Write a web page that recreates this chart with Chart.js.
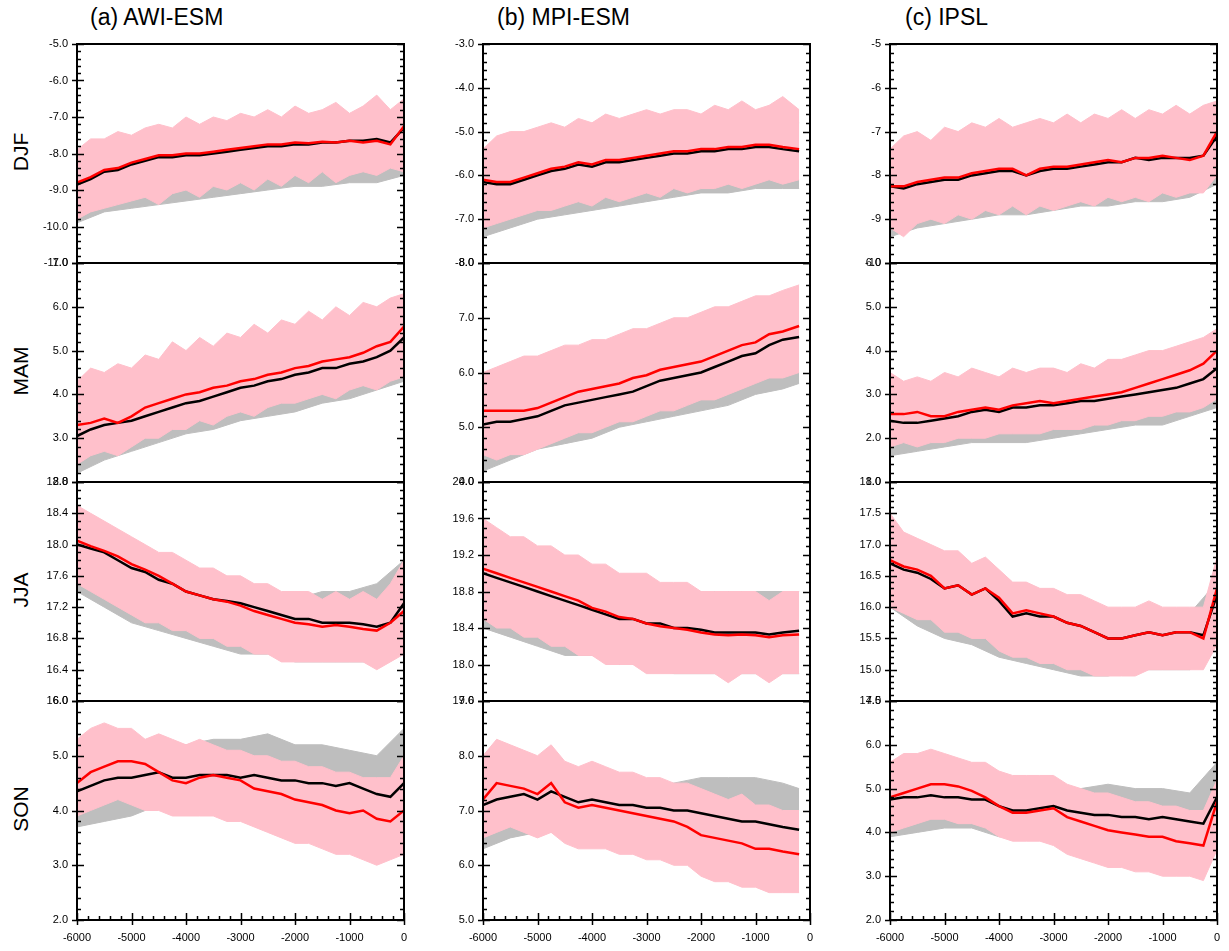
<!DOCTYPE html>
<html>
<head>
<meta charset="utf-8">
<script src="https://cdn.jsdelivr.net/npm/chart.js@4.4.1/dist/chart.umd.min.js"></script>
<style>
  body { margin: 0; background: #fff; width: 1229px; height: 951px; position: relative; overflow: hidden;
         font-family: "Liberation Sans", Arial, sans-serif; }
  canvas { position: absolute; }
  .title { position: absolute; font-size: 23px; top: 4px; }
  .row { position: absolute; font-size: 21px; transform: rotate(-90deg); transform-origin: center; width: 60px; text-align: center; }
</style>
</head>
<body>
<div class="title" style="left:90px">(a) AWI-ESM</div>
<div class="title" style="left:497px">(b) MPI-ESM</div>
<div class="title" style="left:905px">(c) IPSL</div>
<div class="row" style="left:-9px; top:140px">DJF</div>
<div class="row" style="left:-9px; top:359px">MAM</div>
<div class="row" style="left:-9px; top:578px">JJA</div>
<div class="row" style="left:-9px; top:797px">SON</div>
<script>
// x positions (years)
const xs25 = [-6000,-5750,-5500,-5250,-5000,-4750,-4500,-4250,-4000,-3750,-3500,-3250,-3000,-2750,-2500,-2250,-2000,-1750,-1500,-1250,-1000,-750,-500,-250,0];
const xs13 = [-6000,-5500,-5000,-4500,-4000,-3500,-3000,-2500,-2000,-1500,-1000,-500,0];
const xsMpi24 = [-6000,-5750,-5500,-5250,-5000,-4750,-4500,-4250,-4000,-3750,-3500,-3250,-3000,-2750,-2500,-2250,-2000,-1750,-1500,-1250,-1000,-750,-500,-200];
const xsMpi13 = [-6000,-5500,-5000,-4500,-4000,-3500,-3000,-2500,-2000,-1500,-1000,-500,-200];
const xTicks = [-6000,-5000,-4000,-3000,-2000,-1000,0];

// ---- AWI-ESM ----
const awiDjfBlack = [-8.85,-8.7,-8.5,-8.45,-8.3,-8.2,-8.1,-8.1,-8.05,-8.05,-8.0,-7.95,-7.9,-7.85,-7.8,-7.8,-7.75,-7.75,-7.7,-7.7,-7.65,-7.65,-7.6,-7.7,-7.3];
const awiDjfRed = [-8.8,-8.65,-8.45,-8.4,-8.25,-8.15,-8.05,-8.05,-8.0,-8.0,-7.95,-7.9,-7.85,-7.8,-7.75,-7.75,-7.7,-7.72,-7.68,-7.7,-7.65,-7.7,-7.65,-7.75,-7.25];
const awiDjfPinkHi = [-7.9,-7.6,-7.6,-7.4,-7.5,-7.3,-7.2,-7.3,-7.0,-7.2,-7.0,-7.1,-6.9,-7.0,-6.8,-7.0,-6.7,-6.9,-6.8,-6.6,-6.9,-6.7,-6.4,-6.8,-6.5];
const awiDjfPinkLo = [-9.8,-9.6,-9.5,-9.4,-9.3,-9.2,-9.4,-9.1,-9.0,-9.2,-8.9,-9.0,-8.8,-9.0,-8.7,-8.9,-8.6,-8.8,-8.5,-8.8,-8.6,-8.5,-8.6,-8.4,-8.5];
const awiDjfGrayHi = [-8.2,-7.9,-7.7,-7.6,-7.5,-7.4,-7.3,-7.2,-7.2,-7.1,-7.1,-7.0,-6.9];
const awiDjfGrayLo = [-9.9,-9.6,-9.5,-9.4,-9.3,-9.2,-9.1,-9.0,-8.9,-8.9,-8.8,-8.8,-8.6];

const awiMamBlack = [3.05,3.2,3.3,3.35,3.4,3.5,3.6,3.7,3.8,3.85,3.95,4.05,4.15,4.2,4.3,4.35,4.45,4.5,4.6,4.6,4.7,4.75,4.85,5.0,5.3];
const awiMamRed = [3.3,3.35,3.45,3.35,3.5,3.7,3.8,3.9,4.0,4.05,4.15,4.2,4.3,4.35,4.45,4.5,4.6,4.65,4.75,4.8,4.85,4.95,5.1,5.2,5.55];
const awiMamPinkHi = [4.3,4.6,4.5,4.7,4.6,4.9,4.8,5.2,5.0,5.3,5.1,5.4,5.3,5.6,5.4,5.7,5.6,5.9,5.7,6.0,5.8,6.1,6.0,6.2,6.3];
const awiMamPinkLo = [2.4,2.6,2.7,2.6,2.8,3.0,3.0,3.2,3.2,3.4,3.3,3.5,3.6,3.5,3.7,3.8,3.8,3.9,4.0,3.9,4.1,4.2,4.1,4.3,4.4];
const awiMamGrayHi = [3.6,3.8,3.9,4.2,4.4,4.6,4.8,4.9,5.1,5.2,5.4,5.6,5.9];
const awiMamGrayLo = [2.2,2.5,2.7,2.9,3.1,3.2,3.4,3.5,3.6,3.8,3.9,4.1,4.3];

const awiJjaBlack = [18.0,17.95,17.9,17.8,17.7,17.65,17.55,17.5,17.4,17.35,17.3,17.28,17.25,17.2,17.15,17.1,17.05,17.05,17.0,17.0,17.0,16.98,16.95,17.0,17.25];
const awiJjaRed = [18.05,17.98,17.92,17.85,17.75,17.68,17.6,17.5,17.4,17.35,17.3,17.27,17.22,17.15,17.1,17.05,17.0,16.98,16.95,16.97,16.95,16.92,16.9,17.0,17.15];
const awiJjaPinkHi = [18.5,18.4,18.3,18.2,18.1,18.0,17.9,17.9,17.8,17.7,17.7,17.6,17.6,17.5,17.5,17.4,17.4,17.4,17.3,17.4,17.3,17.4,17.3,17.5,17.8];
const awiJjaPinkLo = [17.5,17.4,17.3,17.2,17.1,17.0,17.0,16.9,16.9,16.8,16.8,16.7,16.7,16.6,16.6,16.5,16.5,16.5,16.5,16.5,16.5,16.5,16.4,16.5,16.6];
const awiJjaGrayHi = [18.3,18.1,17.9,17.7,17.6,17.5,17.4,17.4,17.3,17.4,17.4,17.5,17.8];
const awiJjaGrayLo = [17.4,17.2,17.0,16.9,16.8,16.7,16.6,16.6,16.5,16.5,16.5,16.5,16.6];

const awiSonBlack = [4.35,4.45,4.55,4.6,4.6,4.65,4.7,4.6,4.6,4.65,4.65,4.65,4.6,4.65,4.6,4.55,4.55,4.5,4.5,4.45,4.5,4.4,4.3,4.25,4.5];
const awiSonRed = [4.5,4.7,4.8,4.9,4.9,4.85,4.7,4.55,4.5,4.6,4.65,4.6,4.55,4.4,4.35,4.3,4.2,4.15,4.1,4.0,3.95,4.0,3.85,3.8,4.0];
const awiSonPinkHi = [5.3,5.5,5.6,5.5,5.5,5.3,5.4,5.3,5.2,5.3,5.2,5.1,5.1,5.0,5.0,4.9,4.9,4.8,4.8,4.7,4.7,4.6,4.6,4.6,5.0];
const awiSonPinkLo = [3.9,4.0,4.1,4.2,4.1,4.0,4.0,3.9,3.9,3.9,3.9,3.8,3.8,3.7,3.6,3.5,3.4,3.4,3.3,3.2,3.2,3.1,3.0,3.1,3.2];
const awiSonGrayHi = [4.9,5.2,5.3,5.2,5.2,5.3,5.3,5.4,5.2,5.2,5.1,5.0,5.5];
const awiSonGrayLo = [3.7,3.8,3.9,4.1,4.1,4.0,4.0,4.0,3.9,3.9,3.8,3.7,3.9];

// ---- MPI-ESM ----
const mpiDjfBlack = [-6.15,-6.2,-6.2,-6.1,-6.0,-5.9,-5.85,-5.75,-5.8,-5.7,-5.7,-5.65,-5.6,-5.55,-5.5,-5.5,-5.45,-5.45,-5.4,-5.4,-5.35,-5.35,-5.4,-5.45];
const mpiDjfRed = [-6.1,-6.15,-6.15,-6.05,-5.95,-5.85,-5.8,-5.7,-5.75,-5.65,-5.65,-5.6,-5.55,-5.5,-5.45,-5.45,-5.4,-5.4,-5.35,-5.35,-5.3,-5.3,-5.35,-5.4];
const mpiDjfPinkHi = [-5.4,-5.1,-5.0,-5.0,-4.9,-4.8,-4.9,-4.7,-4.8,-4.6,-4.7,-4.6,-4.5,-4.6,-4.5,-4.5,-4.6,-4.4,-4.5,-4.3,-4.5,-4.4,-4.2,-4.5];
const mpiDjfPinkLo = [-7.2,-7.1,-7.0,-6.9,-6.8,-6.8,-6.7,-6.6,-6.7,-6.5,-6.6,-6.5,-6.4,-6.5,-6.3,-6.4,-6.3,-6.3,-6.2,-6.3,-6.2,-6.1,-6.2,-6.1];
const mpiDjfGrayHi = [-5.6,-5.4,-5.3,-5.2,-5.1,-5.0,-5.0,-4.9,-4.9,-4.8,-4.8,-4.8,-4.8];
const mpiDjfGrayLo = [-7.4,-7.2,-7.0,-6.9,-6.8,-6.7,-6.6,-6.5,-6.4,-6.4,-6.3,-6.3,-6.3];

const mpiMamBlack = [5.05,5.1,5.1,5.15,5.2,5.3,5.4,5.45,5.5,5.55,5.6,5.65,5.75,5.85,5.9,5.95,6.0,6.1,6.2,6.3,6.35,6.5,6.6,6.65];
const mpiMamRed = [5.3,5.3,5.3,5.3,5.35,5.45,5.55,5.65,5.7,5.75,5.8,5.9,5.95,6.05,6.1,6.15,6.2,6.3,6.4,6.5,6.55,6.7,6.75,6.85];
const mpiMamPinkHi = [6.0,6.1,6.2,6.3,6.3,6.4,6.5,6.5,6.6,6.6,6.7,6.8,6.8,6.9,7.0,7.0,7.1,7.2,7.2,7.3,7.4,7.4,7.5,7.6];
const mpiMamPinkLo = [4.5,4.4,4.5,4.5,4.6,4.7,4.8,4.9,4.9,5.0,5.1,5.1,5.2,5.3,5.3,5.4,5.5,5.5,5.6,5.7,5.8,5.9,5.9,6.0];
const mpiMamGrayHi = [5.4,5.5,5.7,5.8,5.9,6.0,6.1,6.3,6.4,6.5,6.7,6.8,6.9];
const mpiMamGrayLo = [4.2,4.4,4.6,4.7,4.8,5.0,5.1,5.2,5.3,5.4,5.6,5.7,5.8];

const mpiJjaBlack = [19.0,18.95,18.9,18.85,18.8,18.75,18.7,18.65,18.6,18.55,18.5,18.5,18.45,18.45,18.4,18.4,18.38,18.35,18.35,18.35,18.35,18.33,18.35,18.37];
const mpiJjaRed = [19.05,19.0,18.95,18.9,18.85,18.8,18.75,18.7,18.62,18.58,18.52,18.5,18.45,18.42,18.4,18.38,18.35,18.33,18.32,18.33,18.32,18.3,18.32,18.33];
const mpiJjaPinkHi = [19.6,19.5,19.4,19.4,19.3,19.3,19.2,19.2,19.1,19.1,19.0,19.0,19.0,18.9,18.9,18.9,18.8,18.8,18.8,18.8,18.8,18.7,18.8,18.8];
const mpiJjaPinkLo = [18.5,18.4,18.4,18.3,18.3,18.2,18.2,18.1,18.1,18.0,18.0,18.0,17.9,17.9,17.9,17.9,17.9,17.9,17.8,17.9,17.9,17.8,17.9,17.9];
const mpiJjaGrayHi = [19.4,19.3,19.2,19.1,19.0,18.9,18.9,18.8,18.8,18.8,18.8,18.8,18.8];
const mpiJjaGrayLo = [18.4,18.3,18.2,18.1,18.1,18.0,18.0,17.9,17.9,17.9,17.9,17.9,17.9];

const mpiSonBlack = [7.1,7.2,7.25,7.3,7.2,7.35,7.25,7.15,7.2,7.15,7.1,7.1,7.05,7.05,7.0,7.0,6.95,6.9,6.85,6.8,6.8,6.75,6.7,6.65];
const mpiSonRed = [7.2,7.5,7.45,7.4,7.3,7.5,7.15,7.05,7.1,7.05,7.0,6.95,6.9,6.85,6.8,6.7,6.55,6.5,6.45,6.4,6.3,6.3,6.25,6.2];
const mpiSonPinkHi = [8.0,8.3,8.2,8.1,8.0,8.2,7.9,7.8,7.9,7.8,7.7,7.7,7.6,7.6,7.5,7.5,7.4,7.3,7.2,7.3,7.1,7.1,7.0,7.0];
const mpiSonPinkLo = [6.5,6.6,6.7,6.6,6.5,6.6,6.4,6.3,6.3,6.3,6.2,6.2,6.1,6.1,6.0,6.0,5.8,5.7,5.7,5.6,5.6,5.5,5.5,5.5];
const mpiSonGrayHi = [7.5,7.6,7.5,7.5,7.4,7.5,7.5,7.5,7.6,7.6,7.6,7.5,7.4];
const mpiSonGrayLo = [6.3,6.5,6.6,6.6,6.6,6.6,6.5,6.4,6.3,6.3,6.3,6.2,6.2];

// ---- IPSL ----
const ipslDjfBlack = [-8.25,-8.3,-8.2,-8.15,-8.1,-8.1,-8.0,-7.95,-7.9,-7.9,-8.0,-7.9,-7.85,-7.85,-7.8,-7.75,-7.7,-7.7,-7.6,-7.65,-7.6,-7.6,-7.6,-7.55,-7.1];
const ipslDjfRed = [-8.25,-8.25,-8.15,-8.1,-8.05,-8.05,-7.95,-7.9,-7.85,-7.85,-8.0,-7.85,-7.8,-7.8,-7.75,-7.7,-7.65,-7.7,-7.6,-7.6,-7.55,-7.6,-7.65,-7.55,-7.0];
const ipslDjfPinkHi = [-7.4,-7.1,-7.0,-7.2,-6.9,-7.0,-6.8,-6.9,-6.7,-6.9,-6.8,-6.7,-6.8,-6.6,-6.8,-6.6,-6.7,-6.5,-6.7,-6.5,-6.6,-6.4,-6.6,-6.4,-6.3];
const ipslDjfPinkLo = [-9.2,-9.4,-9.1,-9.0,-9.1,-8.9,-9.0,-8.8,-8.9,-8.7,-8.9,-8.7,-8.8,-8.7,-8.6,-8.7,-8.5,-8.6,-8.5,-8.6,-8.4,-8.5,-8.4,-8.4,-8.0];
const ipslDjfGrayHi = [-7.6,-7.4,-7.3,-7.2,-7.2,-7.1,-7.0,-7.0,-6.9,-6.9,-6.9,-6.9,-6.6];
const ipslDjfGrayLo = [-9.4,-9.2,-9.1,-9.0,-8.9,-8.9,-8.8,-8.7,-8.7,-8.6,-8.6,-8.5,-8.2];

const ipslMamBlack = [2.4,2.35,2.35,2.4,2.45,2.5,2.6,2.65,2.6,2.7,2.7,2.75,2.75,2.8,2.85,2.85,2.9,2.95,3.0,3.05,3.1,3.15,3.25,3.35,3.6];
const ipslMamRed = [2.55,2.55,2.6,2.5,2.5,2.6,2.65,2.7,2.65,2.75,2.8,2.85,2.8,2.85,2.9,2.95,3.0,3.05,3.15,3.25,3.35,3.45,3.55,3.7,4.0];
const ipslMamPinkHi = [3.5,3.3,3.4,3.3,3.5,3.4,3.6,3.5,3.4,3.6,3.5,3.6,3.6,3.5,3.7,3.6,3.8,3.8,3.9,4.0,4.0,4.1,4.2,4.3,4.5];
const ipslMamPinkLo = [1.8,1.9,1.8,1.9,1.9,2.0,2.0,2.0,2.1,2.1,2.1,2.1,2.2,2.2,2.2,2.3,2.3,2.4,2.4,2.5,2.5,2.6,2.6,2.7,2.9];
const ipslMamGrayHi = [2.9,2.9,3.0,3.0,3.1,3.1,3.1,3.2,3.3,3.4,3.5,3.6,3.8];
const ipslMamGrayLo = [1.6,1.7,1.8,1.9,1.9,1.9,2.0,2.1,2.2,2.3,2.3,2.5,2.7];

const ipslJjaBlack = [16.7,16.6,16.55,16.45,16.3,16.35,16.2,16.3,16.1,15.85,15.9,15.85,15.85,15.75,15.7,15.6,15.5,15.5,15.55,15.6,15.55,15.6,15.6,15.55,16.2];
const ipslJjaRed = [16.75,16.65,16.6,16.5,16.3,16.35,16.2,16.3,16.15,15.9,15.95,15.9,15.85,15.75,15.7,15.6,15.5,15.5,15.55,15.6,15.55,15.6,15.6,15.5,16.3];
const ipslJjaPinkHi = [17.5,17.2,17.1,17.0,16.9,16.9,16.7,16.8,16.6,16.4,16.4,16.3,16.3,16.2,16.2,16.1,16.0,16.0,16.0,16.1,16.0,16.0,16.0,16.0,16.8];
const ipslJjaPinkLo = [16.0,15.9,15.8,15.8,15.6,15.6,15.5,15.5,15.3,15.2,15.2,15.1,15.1,15.0,15.0,14.9,14.9,14.9,14.9,15.0,15.0,15.0,15.0,15.0,15.4];
const ipslJjaGrayHi = [17.0,16.8,16.6,16.3,16.2,16.2,16.0,15.9,15.9,15.9,15.9,15.9,16.4];
const ipslJjaGrayLo = [16.0,15.7,15.5,15.4,15.2,15.1,15.0,14.9,14.9,15.0,15.0,15.0,15.4];

const ipslSonBlack = [4.75,4.8,4.8,4.85,4.8,4.8,4.75,4.75,4.6,4.5,4.5,4.55,4.6,4.5,4.45,4.4,4.4,4.35,4.35,4.3,4.35,4.3,4.25,4.2,4.8];
const ipslSonRed = [4.8,4.9,5.0,5.1,5.1,5.05,4.95,4.8,4.6,4.45,4.45,4.5,4.55,4.35,4.25,4.15,4.05,4.0,3.95,3.9,3.9,3.8,3.75,3.7,4.7];
const ipslSonPinkHi = [5.6,5.8,5.8,5.9,5.8,5.7,5.6,5.6,5.4,5.3,5.3,5.3,5.3,5.1,5.0,4.9,4.9,4.8,4.7,4.7,4.6,4.6,4.5,4.5,5.2];
const ipslSonPinkLo = [4.0,4.1,4.2,4.3,4.3,4.2,4.2,4.1,3.9,3.8,3.8,3.8,3.7,3.5,3.4,3.3,3.2,3.2,3.1,3.1,3.0,3.0,3.0,2.9,3.6];
const ipslSonGrayHi = [5.2,5.2,5.3,5.2,5.0,5.0,4.9,5.0,5.1,5.0,5.0,4.9,5.6];
const ipslSonGrayLo = [3.9,4.0,4.1,4.1,3.9,3.9,3.9,3.9,3.9,3.8,3.8,3.7,4.1];

// y axis per panel: [min, max, major step, minor step, decimals]
const yAxes = [
  [[-11, -5, 1, 0.2, 1], [2, 7, 1, 0.2, 1], [16, 18.8, 0.4, 0.1, 1], [2, 6, 1, 0.2, 1]],
  [[-8, -3, 1, 0.2, 1], [4, 8, 1, 0.2, 1], [17.6, 20, 0.4, 0.1, 1], [5, 9, 1, 0.2, 1]],
  [[-10, -5, 1, 0.2, 0], [1, 6, 1, 0.2, 1], [14.5, 18, 0.5, 0.1, 1], [2, 7, 1, 0.2, 1]]
];

const panels = [
  [[xs25, xs13, awiDjfBlack, awiDjfRed, awiDjfPinkHi, awiDjfPinkLo, awiDjfGrayHi, awiDjfGrayLo],
   [xs25, xs13, awiMamBlack, awiMamRed, awiMamPinkHi, awiMamPinkLo, awiMamGrayHi, awiMamGrayLo],
   [xs25, xs13, awiJjaBlack, awiJjaRed, awiJjaPinkHi, awiJjaPinkLo, awiJjaGrayHi, awiJjaGrayLo],
   [xs25, xs13, awiSonBlack, awiSonRed, awiSonPinkHi, awiSonPinkLo, awiSonGrayHi, awiSonGrayLo]],
  [[xsMpi24, xsMpi13, mpiDjfBlack, mpiDjfRed, mpiDjfPinkHi, mpiDjfPinkLo, mpiDjfGrayHi, mpiDjfGrayLo],
   [xsMpi24, xsMpi13, mpiMamBlack, mpiMamRed, mpiMamPinkHi, mpiMamPinkLo, mpiMamGrayHi, mpiMamGrayLo],
   [xsMpi24, xsMpi13, mpiJjaBlack, mpiJjaRed, mpiJjaPinkHi, mpiJjaPinkLo, mpiJjaGrayHi, mpiJjaGrayLo],
   [xsMpi24, xsMpi13, mpiSonBlack, mpiSonRed, mpiSonPinkHi, mpiSonPinkLo, mpiSonGrayHi, mpiSonGrayLo]],
  [[xs25, xs13, ipslDjfBlack, ipslDjfRed, ipslDjfPinkHi, ipslDjfPinkLo, ipslDjfGrayHi, ipslDjfGrayLo],
   [xs25, xs13, ipslMamBlack, ipslMamRed, ipslMamPinkHi, ipslMamPinkLo, ipslMamGrayHi, ipslMamGrayLo],
   [xs25, xs13, ipslJjaBlack, ipslJjaRed, ipslJjaPinkHi, ipslJjaPinkLo, ipslJjaGrayHi, ipslJjaGrayLo],
   [xs25, xs13, ipslSonBlack, ipslSonRed, ipslSonPinkHi, ipslSonPinkLo, ipslSonGrayHi, ipslSonGrayLo]]
];

// layout
const colLeft = [77, 483, 890];
const rowTop = [44, 263, 482, 701];
const W = 327, H = 219;
const PAD = { left: 70, top: 15, right: 15, bottom: 32 };

const pts = (xs, ys) => ys.map((y, i) => ({ x: xs[i], y: y }));

function range(a, b, step) {
  const out = [];
  const n = Math.round((b - a) / step);
  for (let i = 0; i <= n; i++) out.push(+(a + i * step).toFixed(4));
  return out;
}

// frame + ticks
const frameTicks = {
  id: 'frameTicks',
  afterDraw(chart, args, opts) {
    const { ctx, chartArea: a, scales } = chart;
    const [ymin, ymax, major, minor, dec] = opts.y;
    ctx.save();
    ctx.strokeStyle = '#000';
    ctx.fillStyle = '#000';
    ctx.lineWidth = 1.5;
    range(ymin, ymax, minor).forEach(v => {
      const p = Math.round(scales.y.getPixelForValue(v)) + 0.5;
      const isMajor = Math.abs(v / major - Math.round(v / major)) < 1e-6;
      ctx.beginPath();
      ctx.moveTo(a.left - (isMajor ? 5 : 0), p); ctx.lineTo(a.left + (isMajor ? 7 : 4), p);
      ctx.moveTo(a.right, p); ctx.lineTo(a.right - (isMajor ? 7 : 4), p);
      ctx.stroke();
    });
    ctx.font = '11px "Liberation Sans", Arial, sans-serif';
    ctx.textAlign = 'right';
    ctx.textBaseline = 'middle';
    range(ymin, ymax, major).forEach(v => {
      ctx.fillText(v.toFixed(dec), a.left - 9, scales.y.getPixelForValue(v));
    });
    if (opts.bottom) {
      range(-6000, 0, 200).forEach(v => {
        const p = Math.round(scales.x.getPixelForValue(v)) + 0.5;
        const isMajor = v % 1000 === 0;
        ctx.beginPath();
        ctx.moveTo(p, a.bottom + (isMajor ? 5 : 0)); ctx.lineTo(p, a.bottom - (isMajor ? 7 : 4));
        ctx.stroke();
      });
      ctx.textAlign = 'center';
      ctx.textBaseline = 'top';
      xTicks.forEach(v => ctx.fillText(String(v), scales.x.getPixelForValue(v), a.bottom + 12));
    }
    ctx.lineWidth = 2;
    ctx.strokeRect(a.left, a.top, a.right - a.left, a.bottom - a.top);
    ctx.restore();
  }
};

// lower `order` is drawn on top
function band(xs, hi, lo, color, order) {
  return [
    { data: pts(xs, lo), borderColor: color, borderWidth: 1, pointRadius: 0, fill: false, order: order },
    { data: pts(xs, hi), borderColor: color, borderWidth: 1, pointRadius: 0, fill: '-1', backgroundColor: color, order: order }
  ];
}

panels.forEach((col, c) => {
  col.forEach((p, r) => {
    const [xs, xsG, black, red, pHi, pLo, gHi, gLo] = p;
    const yAx = yAxes[c][r];
    const cv = document.createElement('canvas');
    cv.width = W + PAD.left + PAD.right;
    cv.height = H + PAD.top + PAD.bottom;
    cv.style.left = (colLeft[c] - PAD.left) + 'px';
    cv.style.top = (rowTop[r] - PAD.top) + 'px';
    cv.style.width = cv.width + 'px';
    cv.style.height = cv.height + 'px';
    document.body.appendChild(cv);

    new Chart(cv, {
      type: 'line',
      data: {
        datasets: [
          ...band(xsG, gHi, gLo, '#bebebe', 4),
          ...band(xs, pHi, pLo, '#ffc0cb', 3),
          { data: pts(xs, black), borderColor: '#000', borderWidth: 2.5, pointRadius: 0, fill: false, order: 2 },
          { data: pts(xs, red), borderColor: '#ff0000', borderWidth: 2.5, pointRadius: 0, fill: false, order: 1 }
        ]
      },
      options: {
        responsive: false,
        animation: false,
        devicePixelRatio: 1,
        layout: { padding: PAD },
        elements: { line: { tension: 0 } },
        plugins: {
          legend: { display: false },
          tooltip: { enabled: false },
          filler: { drawTime: 'beforeDatasetDraw' },
          frameTicks: { y: yAx, bottom: r === 3 }
        },
        scales: {
          x: { type: 'linear', min: -6000, max: 0, display: false },
          y: { min: yAx[0], max: yAx[1], display: false }
        }
      },
      plugins: [frameTicks]
    });
  });
});
</script>
</body>
</html>
